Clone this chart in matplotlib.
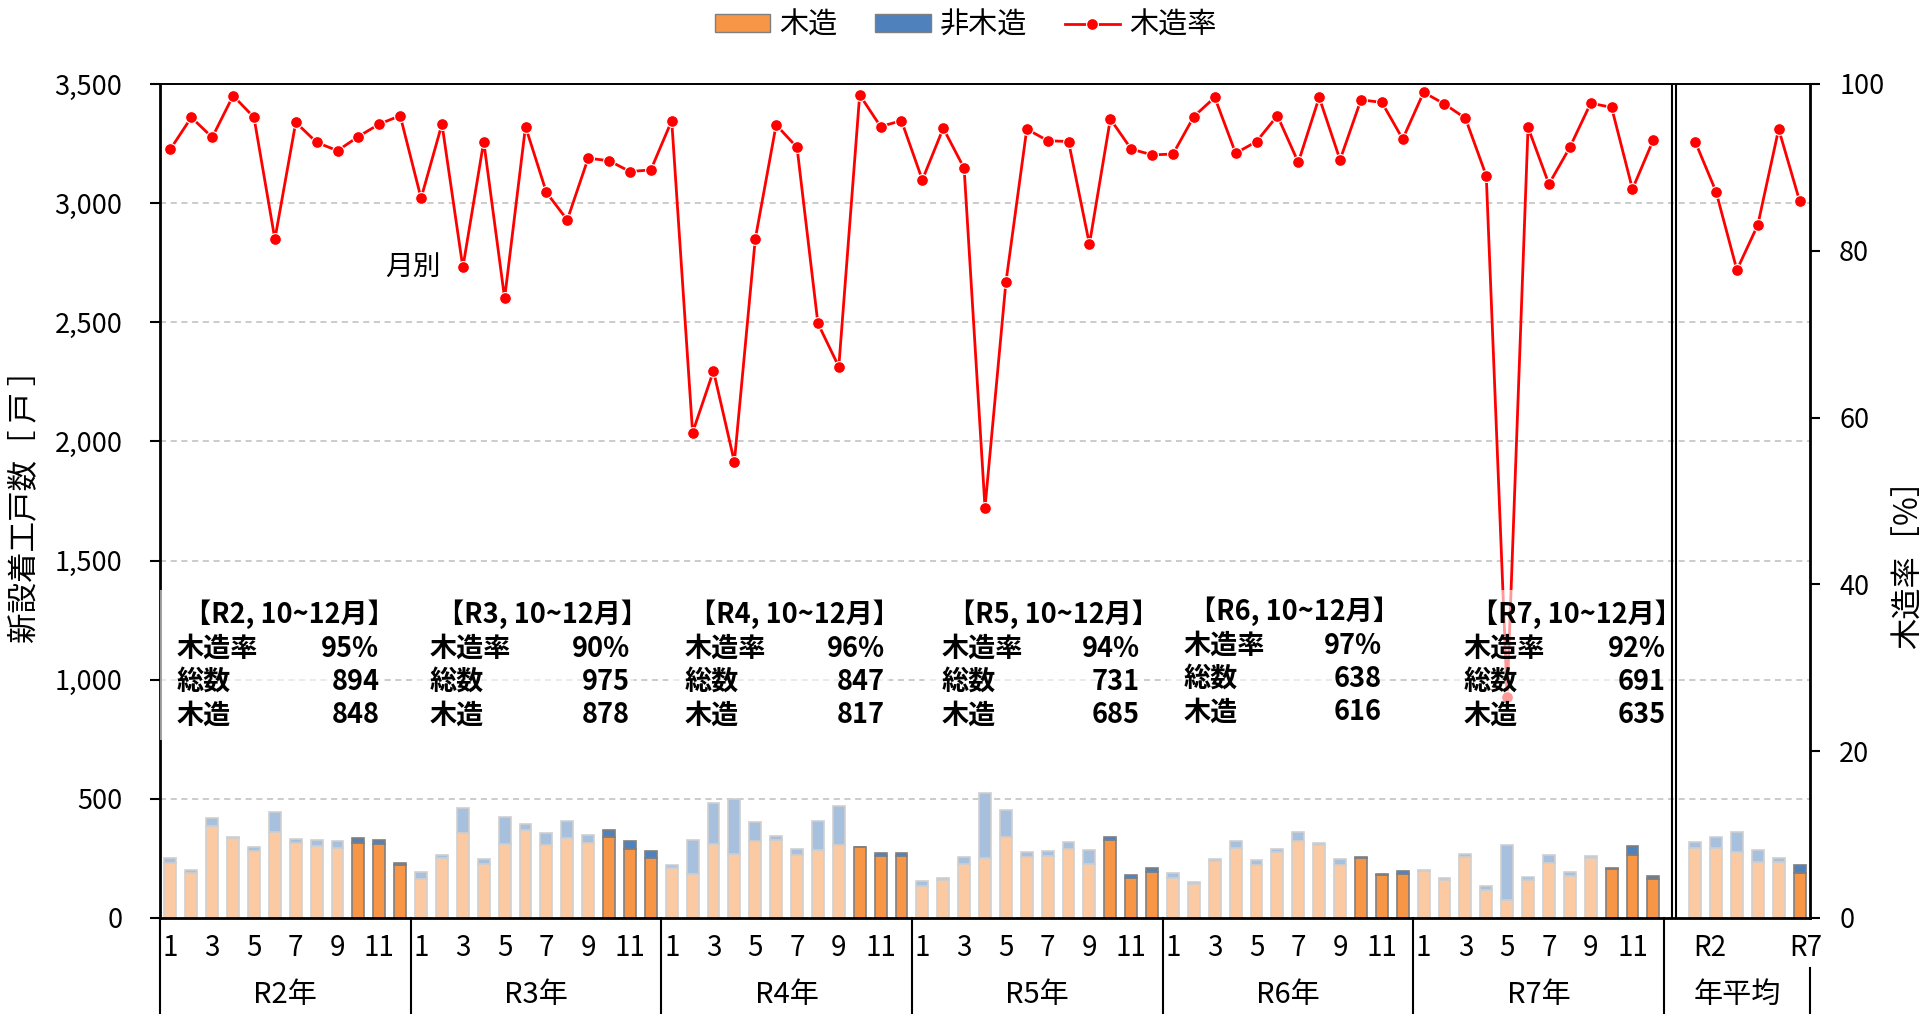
import matplotlib
matplotlib.use('Agg')
import matplotlib.pyplot as plt
from matplotlib.patches import Patch, Rectangle
from matplotlib.lines import Line2D
from matplotlib.transforms import blended_transform_factory
import numpy as np

plt.rcParams['font.family'] = ['Noto Sans CJK JP', 'DejaVu Sans']

years = ['R2', 'R3', 'R4', 'R5', 'R6', 'R7']
month_labels = ['1', '3', '5', '7', '9', '11']

# monthly totals / wooden houses (戸)
total_R2 = [253, 200, 418, 342, 296, 446, 331, 329, 325, 336, 328, 230]
wood_R2 = [232, 190, 387, 334, 282, 359, 313, 303, 294, 315, 310, 223]
total_R3 = [194, 266, 460, 246, 425, 394, 355, 405, 349, 370, 322, 283]
wood_R3 = [165, 251, 356, 225, 310, 370, 306, 335, 315, 338, 288, 252]
total_R4 = [221, 327, 482, 500, 401, 345, 290, 405, 469, 300, 273, 274]
wood_R4 = [210, 186, 311, 268, 324, 327, 266, 286, 306, 296, 260, 261]
total_R5 = [155, 168, 256, 524, 452, 275, 280, 317, 286, 339, 181, 211]
wood_R5 = [134, 158, 228, 252, 341, 256, 259, 291, 225, 326, 167, 192]
total_R6 = [189, 151, 246, 325, 245, 289, 359, 315, 249, 256, 186, 196]
wood_R6 = [169, 141, 239, 294, 224, 277, 322, 307, 224, 250, 181, 185]
total_R7 = [203, 166, 268, 134, 306, 172, 266, 194, 262, 211, 304, 176]
wood_R7 = [197, 161, 255, 117, 77, 159, 231, 176, 253, 205, 265, 165]

# annual average
total_avg = [321, 341, 359, 287, 251, 222]
wood_avg = [294, 293, 275, 235, 235, 189]

# 木造率 (%)
rate_R2 = [92.2, 96.0, 93.6, 98.6, 96.0, 81.4, 95.4, 93.0, 92.0, 93.7, 95.2, 96.2]
rate_R3 = [86.3, 95.2, 78.0, 93.1, 74.3, 94.9, 87.0, 83.7, 91.1, 90.8, 89.5, 89.7]
rate_R4 = [95.6, 58.2, 65.6, 54.7, 81.4, 95.1, 92.4, 71.3, 66.1, 98.7, 94.9, 95.6]
rate_R5 = [88.5, 94.7, 89.9, 49.2, 76.2, 94.6, 93.2, 93.1, 80.8, 95.8, 92.2, 91.5]
rate_R6 = [91.6, 96.1, 98.4, 91.7, 93.1, 96.2, 90.6, 98.4, 90.9, 98.1, 97.8, 93.4]
rate_R7 = [99.0, 97.6, 95.9, 89.0, 26.5, 94.8, 88.0, 92.4, 97.7, 97.2, 87.4, 93.3]
rate_avg = [93.1, 87.1, 77.7, 83.1, 94.6, 86.0]

# 10~12月 summary boxes
note_rate = ['95%', '90%', '96%', '94%', '97%', '92%']
note_total = [894, 975, 847, 731, 638, 691]
note_wood = [848, 878, 817, 685, 616, 635]

# layout of the summary boxes (x in category units, y in left-axis units)
note_x_title = [5.7, 17.8, 29.9, 42.3, 53.8, 67.3]
note_x_label = [0.3, 12.4, 24.6, 36.9, 48.5, 61.9]
note_x_value = [10.0, 22.0, 34.2, 46.4, 58.0, 71.6]
note_dy = [0, 0, 0, 0, 13, 0]

total_m = np.concatenate([total_R2, total_R3, total_R4, total_R5, total_R6, total_R7])
wood_m = np.concatenate([wood_R2, wood_R3, wood_R4, wood_R5, wood_R6, wood_R7])
rate_m = np.concatenate([rate_R2, rate_R3, rate_R4, rate_R5, rate_R6, rate_R7])

x_m = np.arange(len(total_m))
x_a = np.arange(len(total_m) + 1, len(total_m) + 1 + len(total_avg))

wood_light, wood_dark = '#FBCAA2', '#F79646'
nw_light, nw_dark = '#A7C0DE', '#4F81BD'
edge_light, edge_dark = '#CFCFCF', '#7F7F7F'

fig = plt.figure(figsize=(19.31, 10.14), dpi=100)
ax = fig.add_axes([160/1931, 1-918/1014, 1650/1931, 834/1014])

# bars - Oct..Dec and R7 average highlighted
hl_m = (x_m % 12) >= 9
hl_a = np.arange(len(total_avg)) == len(total_avg) - 1
xs = np.concatenate([x_m, x_a])
wood_all = np.concatenate([wood_m, wood_avg])
nw_all = np.concatenate([total_m, total_avg]) - wood_all
hl = np.concatenate([hl_m, hl_a])

ax.bar(xs, wood_all, width=0.57, color=np.where(hl, wood_dark, wood_light),
       edgecolor=np.where(hl, edge_dark, edge_light), linewidth=1.2, zorder=2)
ax.bar(xs, nw_all, bottom=wood_all, width=0.57, color=np.where(hl, nw_dark, nw_light),
       edgecolor=np.where(hl, edge_dark, edge_light), linewidth=1.2, zorder=2)

ax.set_xlim(-0.5, 78.5)
ax.set_ylim(0, 3500)
ax.set_yticks(np.arange(0, 3501, 500))
ax.set_yticklabels([f'{v:,}' for v in range(0, 3501, 500)])
ax.tick_params(axis='y', labelsize=19.5, length=7, width=1.5, pad=20)
ax.set_xticks([])
ax.yaxis.grid(True, linestyle=(0, (4, 3)), color='#BDBDBD', linewidth=1.1)
ax.set_axisbelow(True)
for s in ['left', 'right', 'bottom']:
    ax.spines[s].set_linewidth(2.0)
ax.spines['top'].set_linewidth(1.4)

# double separator before annual averages
for xv in [71.9, 72.1]:
    ax.axvline(xv, color='black', linewidth=1.5, zorder=3)

# category axis below
tr = blended_transform_factory(ax.transData, ax.transAxes)
for i, y in enumerate(years):
    for j, m in enumerate(month_labels):
        ax.text(12*i + 2*j, -0.036, m, transform=tr, ha='center', va='center', fontsize=20)
    ax.text(12*i + 5.5, -0.092, y + '年', transform=tr, ha='center', va='center', fontsize=21)
ax.text(73.7, -0.036, 'R2', transform=tr, ha='center', va='center', fontsize=20)
ax.text(78.3, -0.036, 'R7', transform=tr, ha='center', va='center', fontsize=20)
ax.text(75.0, -0.092, '年平均', transform=tr, ha='center', va='center', fontsize=21)
for xv in [-0.5, 11.5, 23.5, 35.5, 47.5, 59.5, 71.5]:
    ax.add_line(Line2D([xv, xv], [0, -0.115], transform=tr, color='black',
                       linewidth=1.5, clip_on=False))
ax.add_line(Line2D([78.5, 78.5], [-0.06, -0.115], transform=tr, color='black',
                   linewidth=1.5, clip_on=False))

# wood rate line
ax2 = ax.twinx()
rate_all = np.concatenate([rate_m, [np.nan], rate_avg])
x_line = np.arange(len(rate_all))
ax2.plot(x_line, rate_all, color='#FF0000', linewidth=2.0, marker='o', markersize=8.5,
         markerfacecolor='#FF0000', markeredgecolor='white', markeredgewidth=0.8, zorder=3)
ax2.set_ylim(0, 100)
ax2.set_yticks(np.arange(0, 101, 20))
ax2.tick_params(axis='y', labelsize=19.5, length=7, width=1.5, pad=14)
for s in ax2.spines.values():
    s.set_visible(False)

ax2.text(11.6, 2732, '月別', transform=ax.transData, ha='center', va='center', fontsize=20)

# summary boxes
for i in range(len(years)):
    dy = note_dy[i]
    ax2.add_patch(Rectangle((note_x_label[i] - 0.8, 745 + dy),
                            note_x_value[i] - note_x_label[i] + 1.0, 630,
                            transform=ax.transData, facecolor='white', alpha=0.6,
                            edgecolor='none', zorder=4, clip_on=False))
    ax2.text(note_x_title[i], 1275 + dy, '【' + years[i] + ', 10~12月】', transform=ax.transData,
             ha='center', va='center', fontsize=19.5, fontweight='bold', zorder=5)
    rows = [('木造率', note_rate[i]), ('総数', str(note_total[i])), ('木造', str(note_wood[i]))]
    for k, (lab, val) in enumerate(rows):
        yy = [1128, 990, 850][k] + dy
        ax2.text(note_x_label[i], yy, lab, transform=ax.transData, ha='left', va='center',
                 fontsize=19.5, fontweight='bold', zorder=5)
        ax2.text(note_x_value[i], yy, val, transform=ax.transData, ha='right', va='center',
                 fontsize=19.5, fontweight='bold', zorder=5)

fig.text(25/1931, 1-499/1014, '新設着工戸数［ 戸 ］', rotation=90, ha='center', va='center', fontsize=22)
fig.text(1909/1931, 1-556/1014, '木造率［%］', rotation=90, ha='center', va='center', fontsize=22.5)

handles = [Patch(facecolor=wood_dark, edgecolor=edge_dark),
           Patch(facecolor=nw_dark, edgecolor=edge_dark),
           Line2D([], [], color='#FF0000', linewidth=2.0, marker='o', markersize=8.5,
                  markeredgecolor='white', markeredgewidth=0.8)]
fig.legend(handles, ['木造', '非木造', '木造率'], loc='center', bbox_to_anchor=(0.5, 0.975),
           ncol=3, frameon=False, fontsize=21, handlelength=1.9, handleheight=0.6,
           handletextpad=0.3, columnspacing=1.3)

fig.savefig('out.png', dpi=100)
